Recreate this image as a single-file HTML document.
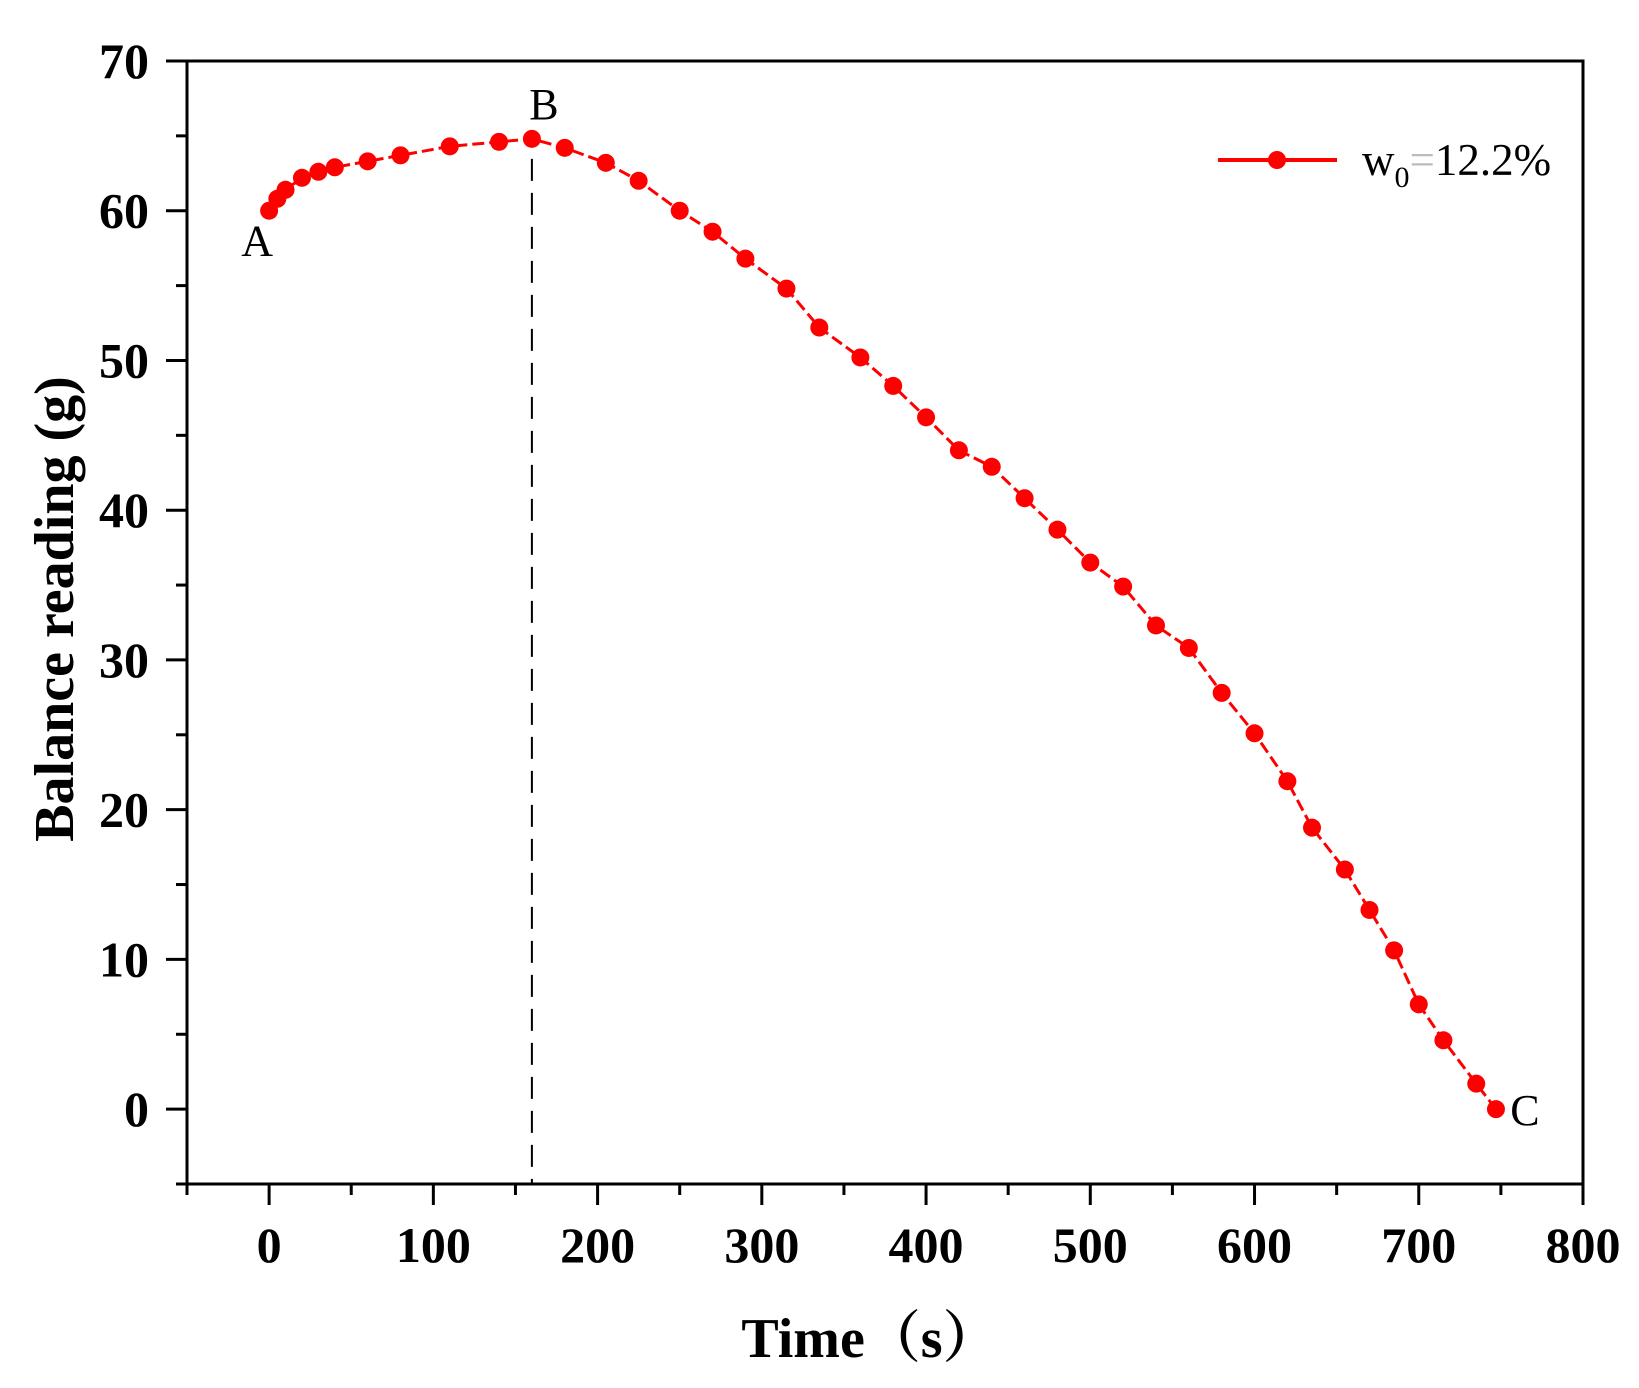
<!DOCTYPE html>
<html><head><meta charset="utf-8"><style>
html,body{margin:0;padding:0;background:#fff;}
svg{display:block;}
text{font-family:"Liberation Serif","Noto Serif CJK SC",serif;}
</style></head><body>
<svg id="chart" width="1639" height="1388" viewBox="0 0 1639 1388" xmlns="http://www.w3.org/2000/svg">
<g id="axes"></g>
<g id="series"></g>
<text transform="translate(73,609) rotate(-90)" text-anchor="middle" font-size="56" font-weight="bold">Balance reading (g)</text>
<text x="870" y="1357" text-anchor="middle" font-size="56" font-weight="bold">Time（s）</text>
<g>
<line x1="1218" y1="160" x2="1337" y2="160" stroke="#ff0000" stroke-width="4"/>
<circle cx="1277" cy="160" r="9" fill="#ff0000"/>
<text x="1362" y="175" font-size="45">w<tspan font-size="30" dy="12">0</tspan><tspan dy="-12" fill="#bbb">=</tspan>12.2%</text>
</g>
</svg>
<script>
const times = [0,5,10,20,30,40,60,80,110,140,160,180,205,225,250,270,290,315,335,360,380,400,420,440,460,480,500,520,540,560,580,600,620,635,655,670,685,700,715,735,747];
const readings = [60,60.8,61.4,62.2,62.6,62.9,63.3,63.7,64.3,64.6,64.8,64.2,63.2,62,60,58.6,56.8,54.8,52.2,50.2,48.3,46.2,44,42.9,40.8,38.7,36.5,34.9,32.3,30.8,27.8,25.1,21.9,18.8,16,13.3,10.6,7,4.6,1.7,0];
const xTicks = [0,100,200,300,400,500,600,700,800];
const yTicks = [0,10,20,30,40,50,60,70];
const peakTime = [160];

const X0=187,X1=1583,Y0=1184,Y1=61;
const xMin=-50,xMax=800,yMin=-5,yMax=70;
function sx(v){return X0+(v-xMin)/(xMax-xMin)*(X1-X0);}
function sy(v){return Y0-(v-yMin)/(yMax-yMin)*(Y0-Y1);}
const NS="http://www.w3.org/2000/svg";
function mk(tag,attrs,parent){const e=document.createElementNS(NS,tag);for(const k in attrs)e.setAttribute(k,attrs[k]);parent.appendChild(e);return e;}
const axes=document.getElementById('axes');
const series=document.getElementById('series');

let frame=mk('rect',{x:X0,y:Y1,width:X1-X0,height:Y0-Y1,fill:'none',stroke:'#000','stroke-width':3},axes);



xTicks.forEach((t,i)=>{
  const x=sx(t);
  const tk=mk('line',{x1:x,y1:Y0,x2:x,y2:Y0+21,stroke:'#000','stroke-width':3},axes);
  
  
  const lb=mk('text',{x:x,y:Y0+78,'text-anchor':'middle','font-size':50,'font-weight':'bold'},axes);
  lb.textContent=t;
  
  
  const m=t-50;
  if(m>=xMin){
    const mt=mk('line',{x1:sx(m),y1:Y0,x2:sx(m),y2:Y0+11,stroke:'#000','stroke-width':3},axes);
    
    
  }
});
yTicks.forEach(t=>{
  const y=sy(t);
  const tk=mk('line',{x1:X0-21,y1:y,x2:X0,y2:y,stroke:'#000','stroke-width':3},axes);
  
  
  const lb=mk('text',{x:X0-38,y:y+17,'text-anchor':'end','font-size':50,'font-weight':'bold'},axes);
  lb.textContent=t;
  
  
  const m=t-5;
  if(m>=yMin){
    const mt=mk('line',{x1:X0-11,y1:sy(m),x2:X0,y2:sy(m),stroke:'#000','stroke-width':3},axes);
    
    
  }
});

const pi=times.indexOf(peakTime[0]);
const dl=mk('line',{x1:sx(peakTime[0]),y1:sy(readings[pi])+20,x2:sx(peakTime[0]),y2:Y0,stroke:'#000','stroke-width':2,'stroke-dasharray':'22,12'},series);



const pts=times.map((t,i)=>sx(t)+','+sy(readings[i])).join(' ');
const pl=mk('polyline',{points:pts,fill:'none',stroke:'#ff0000','stroke-width':3,'stroke-dasharray':'12,5'},series);


times.forEach((t,i)=>{
  const c=mk('circle',{cx:sx(t),cy:sy(readings[i]),r:9,fill:'#ff0000'},series);
  
  
});

function lab(txt,x,y,name){
  const e=mk('text',{x:x,y:y,'font-size':44,'text-anchor':'middle'},series);
  e.textContent=txt;
  
  
}
const n=times.length-1;
lab('A',sx(times[0])-12,sy(readings[0])+45,'label-a');
lab('B',sx(peakTime[0])+12,sy(readings[pi])-20,'label-b');
lab('C',sx(times[n])+29,sy(readings[n])+16,'label-c');
</script>
</body></html>
